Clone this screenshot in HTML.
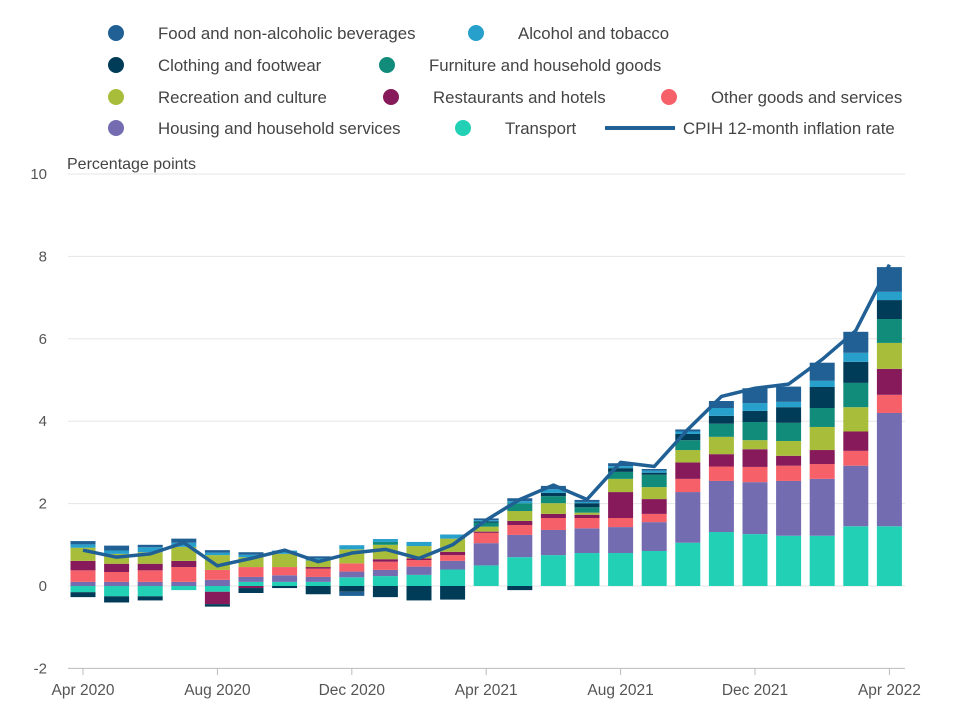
<!DOCTYPE html>
<html><head><meta charset="utf-8"><style>
body{margin:0;background:#fff;width:962px;height:722px;overflow:hidden;font-family:"Liberation Sans",sans-serif;}
svg text{font-family:"Liberation Sans",sans-serif;}
</style></head><body>
<svg id="c" width="962" height="722"></svg>
<script>
const months=["Apr 2020","May 2020","Jun 2020","Jul 2020","Aug 2020","Sep 2020","Oct 2020","Nov 2020","Dec 2020","Jan 2021","Feb 2021","Mar 2021","Apr 2021","May 2021","Jun 2021","Jul 2021","Aug 2021","Sep 2021","Oct 2021","Nov 2021","Dec 2021","Jan 2022","Feb 2022","Mar 2022","Apr 2022"];
const transport=[-0.15,-0.25,-0.25,-0.1,-0.14,0.1,0.1,0.1,0.21,0.24,0.27,0.4,0.5,0.7,0.75,0.8,0.8,0.85,1.05,1.31,1.26,1.22,1.22,1.45,1.45];
const housing=[0.1,0.1,0.1,0.1,0.15,0.12,0.16,0.12,0.14,0.15,0.2,0.21,0.54,0.54,0.61,0.6,0.63,0.7,1.23,1.24,1.26,1.33,1.38,1.47,2.75];
const otherGoods=[0.28,0.24,0.28,0.36,0.24,0.24,0.2,0.2,0.2,0.2,0.16,0.14,0.25,0.24,0.29,0.25,0.22,0.2,0.32,0.35,0.37,0.37,0.36,0.36,0.44];
const restaurants=[0.23,0.2,0.16,0.15,-0.3,-0.05,0,0.04,0,0.06,0.04,0.08,0.03,0.1,0.1,0.08,0.63,0.36,0.4,0.3,0.43,0.24,0.34,0.47,0.63];
const recreation=[0.32,0.24,0.28,0.34,0.36,0.24,0.32,0.16,0.34,0.35,0.3,0.32,0.12,0.24,0.26,0.05,0.32,0.29,0.3,0.42,0.22,0.36,0.56,0.59,0.63];
const furniture=[0,0,0,0,0,0,0,0,0,0.07,0,0,0.1,0.19,0.17,0.13,0.17,0.3,0.24,0.32,0.44,0.44,0.46,0.59,0.58];
const clothing=[-0.12,-0.15,-0.1,0,-0.06,-0.12,-0.05,-0.2,-0.14,-0.27,-0.35,-0.33,0.03,-0.1,0.08,0.1,0.09,0.05,0.15,0.19,0.27,0.38,0.51,0.51,0.46];
const alcohol=[0.08,0.08,0.12,0.1,0.06,0.06,0.08,0.05,0.1,0.07,0.1,0.1,0.03,0.05,0.09,0.03,0.05,0.05,0.06,0.19,0.19,0.13,0.15,0.22,0.2];
const food=[0.08,0.12,0.06,0.1,0.06,0.06,0,0.05,-0.1,0,0,0,0.04,0.07,0.08,0.05,0.07,0.04,0.05,0.17,0.36,0.37,0.44,0.51,0.6];
const cpih=[0.87,0.7,0.78,1.05,0.49,0.67,0.87,0.59,0.8,0.89,0.67,1.0,1.6,2.1,2.45,2.1,3.0,2.9,3.8,4.6,4.8,4.9,5.5,6.2,7.8];
const yTicks=[-2,0,2,4,6,8,10];
const xTickIdx=[0,4,8,12,16,20,24];

const NS="http://www.w3.org/2000/svg";
const svg=document.getElementById('c');
function el(t,a,p){const e=document.createElementNS(NS,t);for(const k in a)e.setAttribute(k,a[k]);(p||svg).appendChild(e);return e;}
const y=v=>586-v*41.2;
const x=i=>83+i*33.6;

yTicks.forEach(v=>{
  const g=el('line',{x1:68,x2:905,y1:y(v),y2:y(v),stroke:v===-2?'#bbb':'#e6e6e6','stroke-width':1});
  
  
  const t=el('text',{x:47,y:y(v)+5,'text-anchor':'end','font-size':15,fill:'#555'});
  t.textContent=v;
  
  
});
const yt=el('text',{x:67,y:169,'font-size':16,fill:'#444'});
yt.textContent='Percentage points';



xTickIdx.forEach(i=>{
  const l=el('line',{x1:x(i),x2:x(i),y1:668,y2:675,stroke:'#bbb'});
  
  
  const t=el('text',{x:x(i),y:695,'text-anchor':'middle','font-size':15.5,fill:'#555'});
  t.textContent=months[i];
  
  
});

const series=[
 ['transport',transport,'#22d0b6'],['housing',housing,'#746cb1'],['other-goods',otherGoods,'#f66068'],
 ['restaurants',restaurants,'#871a5b'],['recreation',recreation,'#a8bd3a'],['furniture',furniture,'#118c7b'],
 ['clothing',clothing,'#003c57'],['alcohol',alcohol,'#27a0cc'],['food',food,'#206095']];
months.forEach((m,i)=>{
  let pos=0,neg=0;
  series.forEach(([n,arr,col])=>{
    const v=arr[i]; if(!v)return;
    let a,b;
    if(v>0){a=pos;b=pos+v;pos=b;}else{a=neg;b=neg+v;neg=b;}
    const r=el('rect',{x:x(i)-12.5,width:25,y:Math.min(y(a),y(b)),height:Math.abs(y(a)-y(b)),fill:col});
    
    
  });
});
const ln=el('polyline',{points:cpih.map((v,i)=>x(i)+','+y(v)).join(' '),fill:'none',stroke:'#206095','stroke-width':3.5,'stroke-linejoin':'round'});



const legend=[
 ['Food and non-alcoholic beverages','#206095',116,34],['Alcohol and tobacco','#27a0cc',476,34],
 ['Clothing and footwear','#003c57',116,66],['Furniture and household goods','#118c7b',387,66],
 ['Recreation and culture','#a8bd3a',116,98],['Restaurants and hotels','#871a5b',391,98],['Other goods and services','#f66068',669,98],
 ['Housing and household services','#746cb1',116,129],['Transport','#22d0b6',463,129]];
legend.forEach(([lab,col,cx,cy])=>{
  const c=el('circle',{cx:cx,cy:cy-1,r:8,fill:col});
  
  
  const t=el('text',{x:cx+42,y:cy+5,'font-size':16.8,fill:'#444'});
  t.textContent=lab;
  
  
});
const ll=el('line',{x1:605,x2:675,y1:128,y2:128,stroke:'#206095','stroke-width':4});


const lt=el('text',{x:683,y:134,'font-size':16.8,fill:'#444'});
lt.textContent='CPIH 12-month inflation rate';


</script>
</body></html>
